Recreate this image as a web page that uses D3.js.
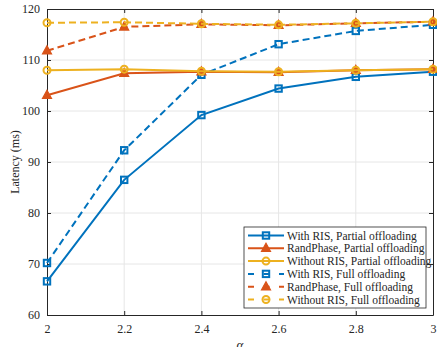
<!DOCTYPE html>
<html>
  <head>
    <script src="https://cdn.jsdelivr.net/npm/d3@7"></script>
    <style>
      body { margin: 0; background: #fff; }
      text { font-family: "Liberation Serif", "Times New Roman", serif; }
    </style>
  </head>
  <body>
    <svg id="chart"></svg>
    <script>
      const alphas = [2, 2.2, 2.4, 2.6, 2.8, 3];
      const risPartial = [66.6, 86.5, 99.2, 104.4, 106.7, 107.7];
      const randPartial = [103.1, 107.4, 107.7, 107.6, 108.0, 108.2];
      const noRisPartial = [108.0, 108.2, 107.8, 107.7, 108.0, 108.2];
      const risFull = [70.2, 92.3, 107.1, 113.1, 115.7, 116.9];
      const randFull = [111.8, 116.5, 117.0, 116.8, 117.2, 117.5];
      const noRisFull = [117.3, 117.4, 117.1, 116.9, 117.2, 117.5];
      const yTicks = [60, 70, 80, 90, 100, 110, 120];
      const xTicks = [2, 2.2, 2.4, 2.6, 2.8, 3];

      const series = [
        {name: "With RIS, Partial offloading", vals: risPartial, color: "#0072BD", marker: "square", dash: null},
        {name: "RandPhase, Partial offloading", vals: randPartial, color: "#D95319", marker: "triangle", dash: null},
        {name: "Without RIS, Partial offloading", vals: noRisPartial, color: "#EDB120", marker: "circle", dash: null},
        {name: "With RIS, Full offloading", vals: risFull, color: "#0072BD", marker: "square", dash: "7,4"},
        {name: "RandPhase, Full offloading", vals: randFull, color: "#D95319", marker: "triangle", dash: "7,4"},
        {name: "Without RIS, Full offloading", vals: noRisFull, color: "#EDB120", marker: "circle", dash: "7,4"}
      ];

      const W = 437, H = 347;
      const margin = {top: 9, right: 4, bottom: 32, left: 47};
      const width = W - margin.left - margin.right,
            height = H - margin.top - margin.bottom;

      const svg = d3.select("#chart").attr("width", W).attr("height", H);
      const g = svg.append("g").attr("transform", `translate(${margin.left}, ${margin.top})`);

      const x = d3.scaleLinear().domain([2, 3]).range([0, width]);
      const y = d3.scaleLinear().domain([60, 120]).range([height, 0]);

      // grid
      g.append("g").selectAll("line").data(xTicks.slice(1, -1)).join("line")
        .attr("x1", d => x(d)).attr("x2", d => x(d)).attr("y1", 0).attr("y2", height)
        .attr("stroke", "#e6e6e6").attr("stroke-width", 1);
      g.append("g").selectAll("line").data(yTicks.slice(1, -1)).join("line")
        .attr("y1", d => y(d)).attr("y2", d => y(d)).attr("x1", 0).attr("x2", width)
        .attr("stroke", "#e6e6e6").attr("stroke-width", 1);

      // axes
      const fmt = d => String(d);
      const axB = g.append("g").attr("transform", `translate(0, ${height})`)
        .call(d3.axisBottom(x).tickValues(xTicks).tickFormat(fmt).tickSizeInner(-4).tickSizeOuter(0).tickPadding(9));
      const axL = g.append("g")
        .call(d3.axisLeft(y).tickValues(yTicks).tickFormat(fmt).tickSizeInner(-4).tickSizeOuter(0).tickPadding(7));
      const axT = g.append("g")
        .call(d3.axisTop(x).tickValues(xTicks).tickFormat("").tickSizeInner(-4).tickSizeOuter(0));
      const axR = g.append("g").attr("transform", `translate(${width}, 0)`)
        .call(d3.axisRight(y).tickValues(yTicks).tickFormat("").tickSizeInner(-4).tickSizeOuter(0));
      [axB, axL, axT, axR].forEach(a => {
        a.select(".domain").attr("stroke", "#262626").attr("stroke-width", 1);
        a.selectAll(".tick line").attr("stroke", "#262626");
        a.selectAll("text").attr("fill", "#262626").style("font-size", "12px")
          .style("font-family", "'Liberation Serif', serif");
      });

      // labels
      svg.append("text").attr("transform", `translate(19, ${margin.top + height / 2}) rotate(-90)`)
        .attr("text-anchor", "middle").attr("fill", "#262626").style("font-size", "12px")
        .text("Latency (ms)");
      svg.append("text").attr("x", margin.left + width / 2).attr("y", 349)
        .attr("text-anchor", "middle").attr("fill", "#262626").style("font-size", "13px")
        .style("font-style", "italic").text("α");

      function drawMarker(sel, type, color) {
        if (type === "square") {
          sel.append("rect").attr("x", -3.2).attr("y", -3.2).attr("width", 6.4).attr("height", 6.4)
            .attr("fill", "none").attr("stroke", color).attr("stroke-width", 2);
        } else if (type === "triangle") {
          sel.append("path").attr("d", "M0,-5L4.5,3.2L-4.5,3.2Z")
            .attr("fill", color).attr("stroke", color).attr("stroke-width", 1.2);
        } else {
          sel.append("circle").attr("r", 3.5)
            .attr("fill", "none").attr("stroke", color).attr("stroke-width", 2);
        }
      }

      const line = d3.line().x((d, i) => x(alphas[i])).y(d => y(d));

      // dashed series first, solid on top
      const drawOrder = [3, 4, 5, 0, 1, 2];
      drawOrder.forEach(k => {
        const s = series[k];
        g.append("path").attr("d", line(s.vals)).attr("fill", "none")
          .attr("stroke", s.color).attr("stroke-width", 2)
          .attr("stroke-dasharray", s.dash);
        s.vals.forEach((v, i) => {
          const m = g.append("g").attr("transform", `translate(${x(alphas[i])}, ${y(v)})`);
          drawMarker(m, s.marker, s.color);
        });
      });

      // legend
      const lg = svg.append("g").attr("transform", "translate(244, 227)");
      lg.append("rect").attr("width", 182).attr("height", 81)
        .attr("fill", "#fff").attr("stroke", "#262626").attr("stroke-width", 0.8);
      series.forEach((s, i) => {
        const row = lg.append("g").attr("transform", `translate(0, ${8.5 + i * 12.8})`);
        row.append("line").attr("x1", 4).attr("x2", 40).attr("y1", 0).attr("y2", 0)
          .attr("stroke", s.color).attr("stroke-width", 2)
          .attr("stroke-dasharray", s.dash ? "6,9.5" : null);
        const m = row.append("g").attr("transform", "translate(22, 0)");
        drawMarker(m, s.marker, s.color);
        row.append("text").attr("x", 43).attr("y", 4).attr("fill", "#262626")
          .style("font-size", "11.5px").text(s.name);
      });
    </script>
  </body>
</html>
